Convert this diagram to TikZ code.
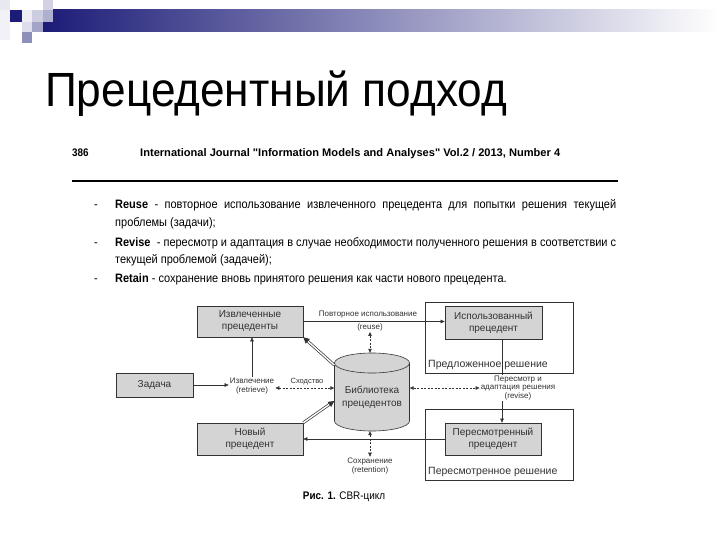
\documentclass[tikz,border=0pt]{standalone}
\usepackage{fontspec}
\setmainfont{Liberation Sans}
\newfontfamily\cond[FakeStretch=0.9]{Liberation Sans}
\usetikzlibrary{arrows.meta,calc}
\definecolor{navy}{RGB}{28,28,120}
\definecolor{dk}{RGB}{50,50,50}
\definecolor{boxgray}{RGB}{212,212,212}
\tikzset{
  box/.style={draw=dk, fill=boxgray, line width=0.6pt, align=center, text=dk,
    font=\fontsize{10}{12}\selectfont, inner sep=0pt},
  frame/.style={draw=dk, line width=0.6pt, fill=white, inner sep=0pt},
  sm/.style={font=\fontsize{8}{9}\selectfont, align=center, text=dk, inner sep=1pt},
  arr/.style={-{Triangle[length=4pt,width=3.5pt]}, line width=0.5pt, draw=dk},
  darr/.style={{Triangle[length=4pt,width=3.5pt]}-{Triangle[length=4pt,width=3.5pt]},
    dash pattern=on 2pt off 1.5pt, line width=0.5pt, draw=dk},
  dbl/.style={draw=dk, line width=0.7pt, double=white, double distance=1.4pt,
    -{Triangle[length=6pt,width=6pt]}},
  bl/.style={anchor=base west, inner sep=0pt, font=\cond\fontsize{12.2}{14}\selectfont}
}
\begin{document}
\begin{tikzpicture}[x=1pt,y=-1pt]
\useasboundingbox[fill=white] (0,0) rectangle (720,540);
% decoration
\shade[left color=navy, right color=white] (43,10) rectangle (720,32);
\fill[navy!10] (0,0) rectangle (10,10);
\fill[navy!6] (0,10) rectangle (10,40);
\fill[navy] (10,10) rectangle (22,22);
\fill[navy!8] (22,10) rectangle (32,22);
\fill[navy!22] (32,10) rectangle (43,22);
\fill[navy!20] (43,0) rectangle (53,10);
\fill[navy!35] (43,10) rectangle (53,22);
\fill[navy!15] (22,22) rectangle (32,32);
\fill[navy!40] (32,22) rectangle (43,32);
\fill[navy!50] (22,32) rectangle (32,43);
% title
\node[anchor=base west, inner sep=0pt, font=\fontsize{48}{48}\selectfont] (title) at (45,107)
  {\resizebox{462pt}{\height}{Прецедентный подход}};
% journal header
\node[anchor=base west, inner sep=0pt, font=\bfseries\cond\fontsize{11}{12}\selectfont] (pg) at (72,157) {386};
\node[anchor=base west, inner sep=0pt, font=\bfseries\cond\fontsize{11}{12}\selectfont] (jr) at (140,157)
  {\resizebox{420pt}{\height}{International Journal "Information Models and Analyses" Vol.2 / 2013, Number 4}};
\draw[line width=2.2pt] (72,181) -- (618,181);
% bullets
\node[bl] (d1) at (94,209) {-};
\node[bl] (d2) at (94,246) {-};
\node[bl] (d3) at (94,282) {-};
\node[bl] (l1) at (115,209) {\makebox[501pt][s]{\textbf{Reuse} - повторное использование извлеченного прецедента для попытки решения текущей}};
\node[bl] (l2) at (115,226) {проблемы (задачи);};
\node[bl] (l3) at (115,246) {\makebox[501pt][s]{\textbf{Revise} \ - пересмотр и адаптация в случае необходимости полученного решения в соответствии с}};
\node[bl] (l4) at (115,263) {текущей проблемой (задачей);};
\node[bl] (l5) at (115,282) {\textbf{Retain} - сохранение вновь принятого решения как части нового прецедента.};
% frames
\node[frame, minimum width=148pt, minimum height=71pt] (fr1) at (499,337.5) {};
\node[frame, minimum width=148pt, minimum height=71pt] (fr2) at (499,444.5) {};
\node[anchor=base west, inner sep=0pt, text=dk, font=\fontsize{10.5}{12}\selectfont] (fl1) at (428,367) {Предложенное решение};
\node[anchor=base west, inner sep=0pt, text=dk, font=\fontsize{10.5}{12}\selectfont] (fl2) at (428,474) {Пересмотренное решение};
% boxes
\node[box, minimum width=106pt, minimum height=31pt] (ext) at (250,321.5) {Извлеченные\\прецеденты};
\node[box, minimum width=77pt, minimum height=24pt] (task) at (154.5,385) {Задача};
\node[box, minimum width=97pt, minimum height=33pt] (used) at (493.5,322.5) {Использованный\\прецедент};
\node[box, minimum width=96pt, minimum height=32pt] (revised) at (493,439) {Пересмотренный\\прецедент};
\node[box, minimum width=106pt, minimum height=32pt] (new) at (250,439) {Новый\\прецедент};
% cylinder
\node[minimum width=75pt, minimum height=78pt, inner sep=0pt] (cyl) at (372,392) {};
\filldraw[draw=dk, fill=boxgray, line width=0.6pt] (334.5,363) -- (334.5,421)
  arc[start angle=180, end angle=360, x radius=37.5pt, y radius=10pt] -- (409.5,363)
  arc[start angle=0, end angle=180, x radius=37.5pt, y radius=10pt] -- cycle;
\draw[dk, line width=0.6pt] (334.5,363) arc[start angle=180, end angle=360, x radius=37.5pt, y radius=10pt];
\node[align=center, text=dk, font=\fontsize{10}{13}\selectfont, inner sep=0pt] (cyltext) at (372,397) {Библиотека\\прецедентов};
% labels
\node[sm] (retr) at (252,386) {Извлечение\\(retrieve)};
\node[sm, font=\fontsize{7.5}{9}\selectfont] (sim) at (307,381.5) {Сходство};
\node[sm] (reuseA) at (368,315) {Повторное использование};
\node[sm] (reuse) at (370,327) {(reuse)};
\node[sm, font=\fontsize{8}{8.5}\selectfont] (revlabel) at (518,388) {Пересмотр и\\адаптация решения\\(revise)};
\node[sm] (retention) at (370,466) {Сохранение\\(retention)};
% caption
\node[anchor=base, inner sep=0pt, font=\cond\fontsize{11}{12}\selectfont] (cap) at (344,499) {\textbf{Рис. 1.} CBR-цикл};
% connectors
\draw[arr] (task.east) -- (retr.west |- task.east);
\draw[arr] (retr.north) -- (retr.north |- ext.south);
\draw[darr] (retr.east |- 0,388) -- (cyl.west |- 0,388);
\draw[arr] (ext.east) -- (used.west |- ext.east);
\draw[darr] (reuse.south) -- (reuse.south |- cyl.north);
\draw[darr] (cyl.east |- 0,388) -- (revlabel.west |- 0,388);
\coordinate (vx) at (502,0);
\draw[dk, line width=0.5pt] (used.south -| vx) -- (vx |- revlabel.north);
\draw[arr] (vx |- revlabel.south) -- (vx |- revised.north);
\draw[arr] (revised.west) -- (new.east |- revised.west);
\draw[darr] (retention.north |- cyl.south) -- (retention.north);
\coordinate (c1) at ($(cyl.west)+(0,-27)$);
\coordinate (c2) at ($(cyl.west)+(0,9)$);
\draw[dbl] (c1) -- (ext.south east);
\draw[dbl] (new.north east) -- (c2);
\end{tikzpicture}
\end{document}
